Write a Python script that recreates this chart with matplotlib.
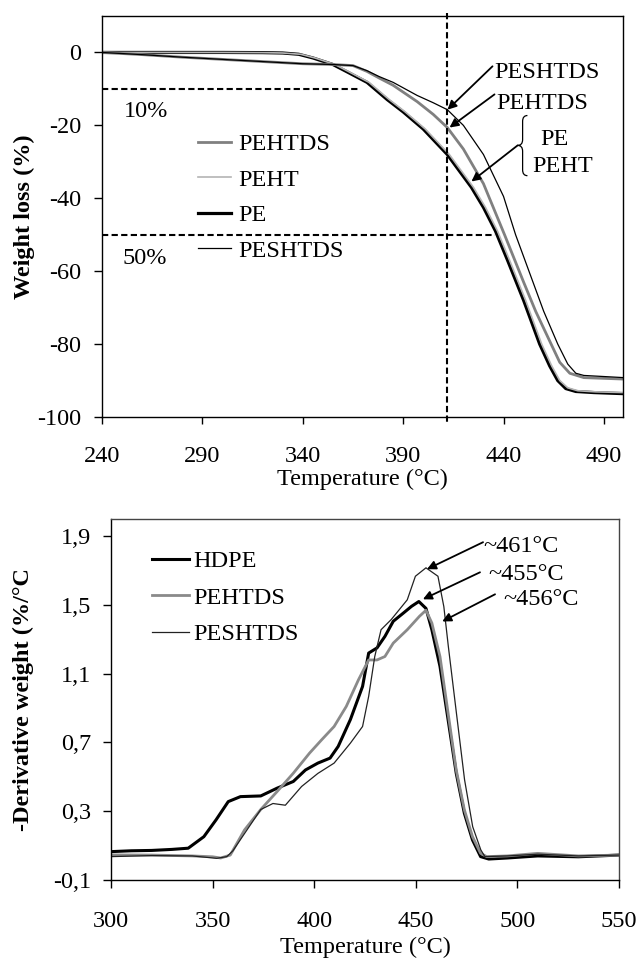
import matplotlib
matplotlib.use("Agg")
import matplotlib.pyplot as plt
from matplotlib.path import Path
from matplotlib.patches import PathPatch
from matplotlib.ticker import FuncFormatter

plt.rcParams['font.family'] = ['Liberation Serif', 'DejaVu Serif']
plt.rcParams['axes.unicode_minus'] = False
FS = 17.5
plt.rcParams['font.size'] = FS

# ---- TGA data (weight loss %) ----
T_pe = [240, 300, 320, 330, 338, 345, 355, 362, 372, 382, 390, 400, 412, 424, 430,
        436, 442, 450, 458, 463, 467, 471, 476, 485, 500]
W_pe = [0, 0, -0.05, -0.15, -0.5, -1.5, -3.3, -5.3, -8.2, -12.9, -16.3, -21, -28, -37, -42.5,
        -49, -57, -68, -80, -86, -90, -92.2, -93, -93.3, -93.6]
T_peht = [240, 300, 320, 330, 339, 346, 356, 363, 373, 383, 391, 401, 413, 425, 431,
          437, 443, 451, 459, 464, 468, 472, 477, 486, 500]
W_peht = [0, 0, -0.05, -0.15, -0.5, -1.5, -3.3, -5.3, -8.2, -12.9, -16.3, -21, -28, -37, -42.5,
          -49, -57, -68, -80, -86, -90, -92, -92.8, -93.1, -93.3]
T_pehtds = [240, 260, 280, 300, 320, 340, 355, 365, 372, 378, 385, 397, 405, 412, 420,
            430, 440.5, 450, 456, 463.7, 468, 473, 480, 490, 500]
W_pehtds = [0, -0.6, -1.3, -1.9, -2.5, -3.1, -3.3, -3.6, -5.2, -7, -9, -13.5, -17, -20.6, -26.5,
            -36, -50, -63, -71, -80, -85, -88, -89.2, -89.4, -89.6]
T_peshtds = [240, 260, 280, 300, 320, 340, 355, 365, 372, 378, 385, 397, 405, 412, 420,
             430, 440, 446, 452, 460, 467, 472, 476, 480, 490, 500]
W_peshtds = [0, -0.6, -1.3, -1.9, -2.5, -3.1, -3.3, -3.6, -5, -6.6, -8.2, -11.8, -13.8, -15.7, -20,
             -28, -39.5, -50, -59, -71, -80, -85.5, -88, -88.6, -88.9, -89.2]

onset_T = 411.6
level10_end = 368.4
level50_end = 435.5

# ---- DTG data (-derivative weight %/°C) ----
T_hdpe = [300, 310, 320, 330, 338, 345.7, 351.7, 357.7, 363.7, 373.7, 381.7, 389.7, 395.7,
          401.8, 407.8, 411.8, 417.8, 423.8, 426.8, 430.9, 434.8, 438.9, 443.9, 447.9, 451.5,
          455, 457.9, 461.9, 465.9, 469.9, 473.9, 477.9, 481.9, 485.9, 495, 510, 530, 550]
D_hdpe = [0.065, 0.07, 0.072, 0.078, 0.085, 0.152, 0.25, 0.356, 0.385, 0.389, 0.434, 0.473, 0.54,
          0.58, 0.609, 0.677, 0.833, 1.026, 1.22, 1.25, 1.317, 1.405, 1.453, 1.492, 1.52,
          1.48, 1.356, 1.143, 0.832, 0.521, 0.288, 0.133, 0.036, 0.022, 0.028, 0.04, 0.035, 0.045]
T_dtg_pehtds = [300, 320, 340, 350, 354, 358.7, 365.7, 373.7, 381.7, 389.7, 397.7, 403.7, 409.8,
                415.8, 421.8, 426.8, 430.9, 434.8, 438.9, 445.8, 451.8, 455, 457.9, 461.9, 465.9,
                469.9, 473.9, 477.9, 481.9, 484.9, 495, 510, 530, 550]
D_dtg_pehtds = [0.046, 0.045, 0.04, 0.035, 0.028, 0.045, 0.191, 0.31, 0.414, 0.521, 0.638, 0.716, 0.793,
                0.91, 1.065, 1.18, 1.18, 1.2, 1.278, 1.356, 1.434, 1.469, 1.395, 1.2, 0.87,
                0.54, 0.308, 0.152, 0.055, 0.036, 0.04, 0.055, 0.04, 0.045]
T_dtg_peshtds = [300, 320, 340, 352, 357, 360, 365.7, 373.7, 379.7, 385.8, 393.8, 401.8, 409.8,
                 417.8, 423.8, 426.8, 429.8, 432.9, 437.9, 445.8, 449.8, 455, 460.9, 463.8, 466,
                 470, 474, 478, 482, 484, 495, 510, 530, 550]
D_dtg_peshtds = [0.036, 0.042, 0.04, 0.026, 0.036, 0.07, 0.17, 0.31, 0.345, 0.335, 0.444, 0.52, 0.58,
                 0.696, 0.793, 0.968, 1.2, 1.356, 1.415, 1.53, 1.667, 1.716, 1.667, 1.49, 1.26,
                 0.87, 0.483, 0.21, 0.075, 0.036, 0.04, 0.05, 0.04, 0.045]

fig = plt.figure(figsize=(6.39, 9.61), dpi=100)

# ================= top: TGA =================
ax1 = fig.add_axes([102/639, 1-417/961, (623-102)/639, (417-16)/961])
l_pe, = ax1.plot(T_pe, W_pe, color='black', lw=2.3, label='PE')
l_peht, = ax1.plot(T_peht, W_peht, color='#b4b4b4', lw=1.2, label='PEHT')
l_pehtds, = ax1.plot(T_pehtds, W_pehtds, color='#808080', lw=2.0, label='PEHTDS')
l_peshtds, = ax1.plot(T_peshtds, W_peshtds, color='black', lw=0.9, label='PESHTDS')

ax1.set_xlim(240, 499.5)
ax1.set_ylim(-100, 10)
ax1.set_xticks([240, 290, 340, 390, 440, 490])
ax1.set_yticks([0, -20, -40, -60, -80, -100])
ax1.tick_params(axis='x', direction='out', length=5, width=1, pad=16, labelsize=FS)
ax1.tick_params(axis='y', direction='out', length=6, width=1, pad=9, labelsize=FS)
ax1.set_xlabel('Temperature (°C)', fontsize=FS, labelpad=1)
ax1.set_ylabel('Weight loss (%)', fontsize=FS, fontweight='bold')
ax1.yaxis.set_label_coords(-0.128, 0.5)
for s in ax1.spines.values():
    s.set_linewidth(1.0)

dash = (0, (3, 1.6))
ax1.plot([240, level10_end], [-10, -10], color='black', lw=1.5, linestyle=dash)
ax1.plot([240, level50_end], [-50, -50], color='black', lw=1.5, linestyle=dash)
ax1.plot([onset_T, onset_T], [10.8, -101.5], color='black', lw=1.5, linestyle=dash, clip_on=False)
ax1.text(251, -16.2, '10%', fontsize=FS, va='center', ha='left')
ax1.text(250, -56.6, '50%', fontsize=FS, va='center', ha='left')

ax1.legend(handles=[l_pehtds, l_peht, l_pe, l_peshtds], loc='upper left',
           bbox_to_anchor=(0.184, 0.708), frameon=False, fontsize=FS,
           handlelength=1.35, handletextpad=0.32, labelspacing=0.56,
           borderpad=0, borderaxespad=0)

arr = dict(arrowstyle='-|>', color='black', lw=1.3, mutation_scale=13, shrinkA=0, shrinkB=0)
ax1.annotate('', xy=(412.1, -15.7), xytext=(434.5, -3.8), arrowprops=arr)
ax1.annotate('', xy=(413.1, -20.6), xytext=(435.5, -11.5), arrowprops=arr)
ax1.annotate('', xy=(424, -35.4), xytext=(447, -25.5), arrowprops=arr)
ax1.text(435.5, -5.4, 'PESHTDS', fontsize=FS, va='center', ha='left')
ax1.text(436.5, -13.9, 'PEHTDS', fontsize=FS, va='center', ha='left')
ax1.text(465.4, -24.0, 'PE', fontsize=FS, va='center', ha='center')
ax1.text(454.4, -31.4, 'PEHT', fontsize=FS, va='center', ha='left')

brace = Path([(451.9, -17.3), (449.5, -17.3), (449.5, -18.9), (449.5, -23.9),
              (449.5, -25.5), (447.0, -25.5), (449.5, -25.5), (449.5, -27.1),
              (449.5, -32.2), (449.5, -33.8), (451.9, -33.8)],
             [Path.MOVETO, Path.CURVE3, Path.CURVE3, Path.LINETO,
              Path.CURVE3, Path.CURVE3, Path.CURVE3, Path.CURVE3,
              Path.LINETO, Path.CURVE3, Path.CURVE3])
ax1.add_patch(PathPatch(brace, facecolor='none', edgecolor='black', lw=0.9))

# ================= bottom: DTG =================
ax2 = fig.add_axes([111/639, 1-880/961, (619-111)/639, (880-519)/961])
h1, = ax2.plot(T_hdpe, D_hdpe, color='black', lw=2.2, label='HDPE')
h2, = ax2.plot(T_dtg_pehtds, D_dtg_pehtds, color='#8a8a8a', lw=2.0, label='PEHTDS')
h3, = ax2.plot(T_dtg_peshtds, D_dtg_peshtds, color='#222222', lw=0.9, label='PESHTDS')

ax2.set_xlim(300, 550)
ax2.set_ylim(-0.1, 2.0)
ax2.set_xticks([300, 350, 400, 450, 500, 550])
ax2.set_yticks([-0.1, 0.3, 0.7, 1.1, 1.5, 1.9])
ax2.yaxis.set_major_formatter(FuncFormatter(lambda v, p: f'{v:.1f}'.replace('.', ',')))
ax2.tick_params(axis='x', direction='out', length=6, width=1, pad=16, labelsize=FS)
ax2.tick_params(axis='y', direction='out', length=6, width=1, pad=8, labelsize=FS)
ax2.set_xlabel('Temperature (°C)', fontsize=FS, labelpad=4)
ax2.set_ylabel('-Derivative weight (%/°C', fontsize=FS, fontweight='bold')
ax2.yaxis.set_label_coords(-0.152, 0.5)
for s in ax2.spines.values():
    s.set_linewidth(1.0)
ax2.spines['top'].set_color('#444444')
ax2.spines['right'].set_color('#444444')

ax2.legend(handles=[h1, h2, h3], loc='upper left', bbox_to_anchor=(0.081, 0.914),
           frameon=False, fontsize=FS, handlelength=1.5, handletextpad=0.18,
           labelspacing=0.6, borderpad=0, borderaxespad=0)

ax2.annotate('', xy=(455.5, 1.708), xytext=(483.1, 1.865), arrowprops=arr)
ax2.annotate('', xy=(453.5, 1.533), xytext=(481.6, 1.69), arrowprops=arr)
ax2.annotate('', xy=(463, 1.404), xytext=(489, 1.562), arrowprops=arr)
ax2.text(483, 1.842, '~461°C', fontsize=FS, va='center', ha='left')
ax2.text(485.5, 1.678, '~455°C', fontsize=FS, va='center', ha='left')
ax2.text(493, 1.533, '~456°C', fontsize=FS, va='center', ha='left')

fig.savefig('out.png', dpi=100)
